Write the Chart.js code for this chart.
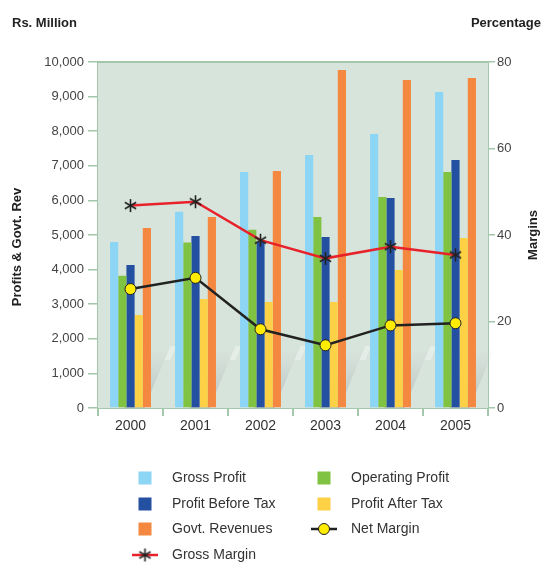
<!DOCTYPE html>
<html>
<head>
<meta charset="utf-8">
<script src="https://cdn.jsdelivr.net/npm/chart.js@4.4.1/dist/chart.umd.min.js"></script>
<style>
  html, body { margin: 0; padding: 0; background: #fff; }
  canvas { display: block; }
</style>
</head>
<body>
<canvas id="profit-chart" width="543" height="563"></canvas>
<script>
const years = ["2000", "2001", "2002", "2003", "2004", "2005"];

// Rs. Million
const grossProfit = [4800, 5670, 6820, 7310, 7920, 9130];
const operatingProfit = [3820, 4780, 5150, 5520, 6100, 6820];
const profitBeforeTax = [4130, 4970, 4800, 4940, 6070, 7170];
const profitAfterTax = [2690, 3150, 3060, 3060, 3990, 4910];
const govtRevenues = [5200, 5520, 6850, 9770, 9480, 9540];

// Percentage
const grossMargin = [46.8, 47.7, 38.8, 34.6, 37.3, 35.4];
const netMargin = [27.5, 30.1, 18.2, 14.5, 19.1, 19.6];

const leftTicks = [0, 1000, 2000, 3000, 4000, 5000, 6000, 7000, 8000, 9000, 10000];
const rightTicks = [0, 20, 40, 60, 80];

const legendOrder = [
  "Gross Profit", "Operating Profit",
  "Profit Before Tax", "Profit After Tax",
  "Govt. Revenues", "Net Margin",
  "Gross Margin",
];

const axisColor = "#a3c7ab";
const textColor = "#333333";
const font = "'Liberation Sans', Arial, sans-serif";

// six-armed asterisk used for the gross margin points
function makeAsterisk(size) {
  const c = document.createElement("canvas");
  c.width = size;
  c.height = size;
  const g = c.getContext("2d");
  const r = size / 2 - 1;
  g.strokeStyle = "#222";
  g.lineWidth = 1.6;
  g.translate(size / 2, size / 2);
  for (let i = 0; i < 3; i++) {
    const a = Math.PI / 2 + (i * Math.PI) / 3;
    g.beginPath();
    g.moveTo(Math.cos(a) * r, Math.sin(a) * r);
    g.lineTo(-Math.cos(a) * r, -Math.sin(a) * r);
    g.stroke();
  }
  return c;
}
const asterisk = makeAsterisk(15);

const bar = (label, data, color) => ({
  type: "bar",
  label: label,
  data: data,
  backgroundColor: color,
  yAxisID: "y",
  order: 2,
  categoryPercentage: 0.63,
  barPercentage: 1.0,
});

const datasets = [
  bar("Gross Profit", grossProfit, "#8dd5f4"),
  bar("Operating Profit", operatingProfit, "#80c241"),
  bar("Profit Before Tax", profitBeforeTax, "#2450a2"),
  bar("Profit After Tax", profitAfterTax, "#fdd145"),
  bar("Govt. Revenues", govtRevenues, "#f58841"),
  {
    type: "line",
    label: "Gross Margin",
    data: grossMargin,
    yAxisID: "y1",
    order: 0,
    borderColor: "#e8222a",
    borderWidth: 2.5,
    pointStyle: asterisk,
    pointRadius: 7,
    tension: 0,
  },
  {
    type: "line",
    label: "Net Margin",
    data: netMargin,
    yAxisID: "y1",
    order: 1,
    borderColor: "#222222",
    borderWidth: 2.5,
    pointStyle: "circle",
    pointRadius: 5.5,
    pointBorderWidth: 1,
    pointBorderColor: "#222222",
    pointBackgroundColor: "#ffec00",
    tension: 0,
  },
];

// plot background, top border, soft shading behind each group
const framePlugin = {
  id: "frame",
  beforeDatasetsDraw(chart) {
    const { ctx, chartArea: a, scales } = chart;
    ctx.save();
    ctx.fillStyle = "#d7e4dc";
    ctx.fillRect(a.left, a.top, a.right - a.left, a.bottom - a.top);

    const step = (a.right - a.left) / years.length;
    years.forEach((y, i) => {
      const cx = scales.x.getPixelForValue(i);
      const x0 = cx + 14;
      const grad = ctx.createLinearGradient(0, a.bottom - 60, 0, a.bottom);
      grad.addColorStop(0, "rgba(190,195,195,0)");
      grad.addColorStop(1, "rgba(175,180,182,0.75)");
      ctx.fillStyle = grad;
      ctx.beginPath();
      ctx.moveTo(x0, a.bottom);
      ctx.lineTo(x0 + 24, a.bottom - 58);
      ctx.lineTo(x0 - 20, a.bottom - 58);
      ctx.lineTo(x0 - 20, a.bottom);
      ctx.closePath();
      ctx.fill();
      ctx.fillStyle = "rgba(255,255,255,0.35)";
      ctx.beginPath();
      ctx.moveTo(x0 + 20, a.bottom - 48);
      ctx.lineTo(x0 + 26, a.bottom - 62);
      ctx.lineTo(x0 + 32, a.bottom - 62);
      ctx.lineTo(x0 + 26, a.bottom - 48);
      ctx.closePath();
      ctx.fill();
    });
    ctx.restore();
  },
  afterDraw(chart) {
    const { ctx, chartArea: a } = chart;
    ctx.save();
    ctx.strokeStyle = axisColor;
    ctx.lineWidth = 2;
    ctx.beginPath();
    ctx.moveTo(a.left - 1, a.top);
    ctx.lineTo(a.right + 1, a.top);
    ctx.stroke();

    // titles
    ctx.fillStyle = "#222";
    ctx.font = "bold 13px " + font;
    ctx.textBaseline = "middle";
    ctx.textAlign = "left";
    ctx.fillText("Rs. Million", 12, 23);
    ctx.textAlign = "right";
    ctx.fillText("Percentage", 541, 23);

    ctx.textAlign = "center";
    ctx.translate(17, 247);
    ctx.rotate(-Math.PI / 2);
    ctx.fillText("Profits & Govt. Rev", 0, 0);
    ctx.setTransform(1, 0, 0, 1, 0, 0);
    ctx.translate(533, 235);
    ctx.rotate(-Math.PI / 2);
    ctx.fillText("Margins", 0, 0);
    ctx.restore();

    drawLegend(chart);
  },
};

function drawLegend(chart) {
  const { ctx } = chart;
  const cols = [{ mark: 145, text: 172 }, { mark: 324, text: 351 }];
  const rows = [478, 504, 529, 555];
  ctx.save();
  ctx.font = "14px " + font;
  ctx.textBaseline = "middle";
  ctx.textAlign = "left";
  legendOrder.forEach((label, i) => {
    const ds = chart.data.datasets.find((d) => d.label === label);
    const col = cols[i % 2];
    const y = rows[Math.floor(i / 2)];
    if (ds.type === "bar") {
      ctx.fillStyle = ds.backgroundColor;
      ctx.fillRect(col.mark - 6.5, y - 6.5, 13, 13);
    } else {
      ctx.strokeStyle = ds.borderColor;
      ctx.lineWidth = 2.5;
      ctx.beginPath();
      ctx.moveTo(col.mark - 13, y);
      ctx.lineTo(col.mark + 13, y);
      ctx.stroke();
      if (ds.pointStyle === "circle") {
        ctx.fillStyle = ds.pointBackgroundColor;
        ctx.strokeStyle = ds.pointBorderColor;
        ctx.lineWidth = 1;
        ctx.beginPath();
        ctx.arc(col.mark, y, 5.5, 0, Math.PI * 2);
        ctx.fill();
        ctx.stroke();
      } else {
        ctx.drawImage(ds.pointStyle, col.mark - 7.5, y - 7.5);
      }
    }
    ctx.fillStyle = textColor;
    ctx.fillText(label, col.text, y);
  });
  ctx.restore();
}

new Chart(document.getElementById("profit-chart"), {
  data: { labels: years, datasets: datasets },
  options: {
    responsive: false,
    devicePixelRatio: 1,
    animation: false,
    layout: { padding: { top: 62, bottom: 115, left: 0, right: 0 } },
    plugins: {
      legend: { display: false },
      tooltip: { enabled: false },
    },
    scales: {
      x: {
        offset: true,
        grid: {
          offset: true,
          drawOnChartArea: false,
          color: axisColor,
          lineWidth: 2,
          tickLength: 8,
        },
        border: { color: axisColor, width: 2 },
        ticks: { color: textColor, font: { size: 14, family: font }, padding: 2 },
        afterFit(scale) { scale.height = 40; },
      },
      y: {
        position: "left",
        min: 0,
        max: 10000,
        afterBuildTicks(scale) { scale.ticks = leftTicks.map((v) => ({ value: v })); },
        grid: {
          drawOnChartArea: false,
          color: axisColor,
          lineWidth: 1.5,
          tickLength: 10,
        },
        border: { color: axisColor, width: 2 },
        ticks: {
          color: "#444",
          font: { size: 13, family: font },
          padding: 4,
          callback: (v) => v.toLocaleString("en-US"),
        },
        afterFit(scale) { scale.width = 98; },
      },
      y1: {
        position: "right",
        min: 0,
        max: 80,
        afterBuildTicks(scale) { scale.ticks = rightTicks.map((v) => ({ value: v })); },
        grid: {
          drawOnChartArea: false,
          color: axisColor,
          lineWidth: 1.5,
          tickLength: 7,
        },
        border: { color: axisColor, width: 2 },
        ticks: { color: "#444", font: { size: 13, family: font }, padding: 2 },
        afterFit(scale) { scale.width = 55; },
      },
    },
  },
  plugins: [framePlugin],
});
</script>
</body>
</html>
